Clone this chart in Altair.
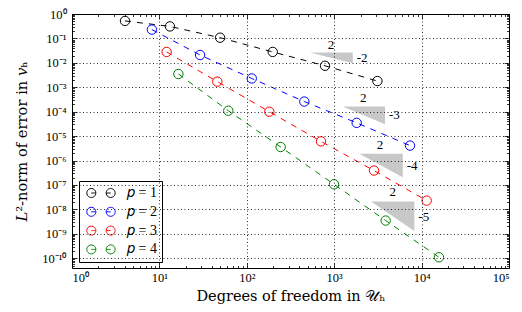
import altair as alt
import pandas as pd

series = ["𝑝 = 1", "𝑝 = 2", "𝑝 = 3", "𝑝 = 4"]
colors = ["#000000", "#0000ff", "#ff0000", "#008000"]

dofs_p1 = [4.04, 13.2, 49.5, 198, 785, 3120]
err_p1 = [0.52, 0.31, 0.107, 0.028, 0.0076, 0.0018]
dofs_p2 = [8.2, 29.2, 114, 455, 1808, 7370]
err_p2 = [0.23, 0.021, 0.0023, 2.6e-4, 3.5e-5, 4.1e-6]
dofs_p3 = [12.1, 46, 181, 706, 2853, 11430]
err_p3 = [0.028, 1.7e-3, 1.0e-4, 6.1e-6, 3.9e-7, 2.3e-8]
dofs_p4 = [16.5, 61.4, 244, 995, 3880, 15800]
err_p4 = [3.5e-3, 1.1e-4, 3.6e-6, 1.07e-7, 3.5e-9, 1.1e-10]

# slope triangles: left x, right x, top y, bottom y
tri_x0 = [528, 1250, 1936, 2636]
tri_x1 = [1629, 3811, 6081, 8260]
tri_ytop = [0.0267, 1.62e-4, 1.9e-6, 2.09e-8]
tri_ybot = [0.0097, 3.09e-5, 2.09e-7, 1.32e-9]
run_text = ["2", "2", "2", "2"]
run_x = [918, 2153, 3342, 4667]
run_y = [0.056, 3.5e-4, 4.5e-6, 5.2e-8]
rise_text = ["-2", "-3", "-4", "-5"]
rise_y = [0.0155, 7.6e-5, 5.75e-7, 4.9e-9]

x_major = [1, 10, 100, 1000, 10000, 100000]
x_minor = [m * 10 ** k for k in range(5) for m in range(2, 10)]
y_major = [10.0 ** (-k) for k in range(11)]
y_minor = [m * 10.0 ** (-k) for k in range(1, 12) for m in range(2, 10) if m * 10.0 ** (-k) > 4e-11]

sup = str.maketrans("-0123456789", "⁻⁰¹²³⁴⁵⁶⁷⁸⁹")


def label_expr(exps):
    e = "round(log(datum.value)/LN10)"
    expr = "''"
    for k in exps:
        expr = f"{e} == {k} ? '10{str(k).translate(sup)}' : ({expr})"
    return expr


rows = []
for name, xs, ys in zip(series, [dofs_p1, dofs_p2, dofs_p3, dofs_p4],
                        [err_p1, err_p2, err_p3, err_p4]):
    for a, b in zip(xs, ys):
        rows.append({"series": name, "dof": a, "err": b})
df = pd.DataFrame(rows)

trows = []
for i in range(4):
    trows.append({"tri": i, "x": tri_x0[i], "y": tri_ytop[i], "y2": tri_ytop[i]})
    trows.append({"tri": i, "x": tri_x1[i], "y": tri_ytop[i], "y2": tri_ybot[i]})
tdf = pd.DataFrame(trows)
run_df = pd.DataFrame({"x": run_x, "y": run_y, "t": run_text})
rise_df = pd.DataFrame({"x": tri_x1, "y": rise_y, "t": rise_text})

FONT = "Liberation Serif"
TFONT = "DejaVu Serif"
xdom = [1, 100000]
ydom = [4e-11, 1]

xs_scale = alt.Scale(type="log", domain=xdom, nice=False)
ys_scale = alt.Scale(type="log", domain=ydom, nice=False)

W, H = 437, 254


def tick_axis(orient, values, size):
    return alt.Axis(orient=orient, values=values, tickSize=size, offset=-size,
                    labels=False, domain=False, grid=False, title=None,
                    tickColor="black", tickWidth=0.8)


color = alt.Color("series:N", scale=alt.Scale(domain=series, range=colors),
                  legend=alt.Legend(
                      title=None, orient="none", legendX=7, legendY=167,
                      strokeColor="black", fillColor="white", cornerRadius=0,
                      padding=5, rowPadding=4.8,
                      symbolType="M-3.15,0 A1,1 0 1,0 -1.15,0 A1,1 0 1,0 -3.15,0 Z M-2.15,0 L-1.15,0 "
                                 "M1.15,0 A1,1 0 1,0 3.15,0 A1,1 0 1,0 1.15,0 Z M1.15,0 L2.15,0",
                      symbolSize=81, symbolStrokeWidth=1, symbolFillColor="transparent",
                      symbolOffset=10, labelOffset=19, symbolDash=[1, 0],
                      labelFont=FONT, labelFontSize=14, labelColor="black"))

lines = alt.Chart(df).mark_line(strokeDash=[6, 6], strokeWidth=1).encode(
    x=alt.X("dof:Q", scale=xs_scale, axis=alt.Axis(
        orient="bottom", values=x_major, labelExpr=label_expr(range(0, 6)),
        ticks=False, domain=False, grid=True, gridColor="black", gridDash=[1, 2.5],
        gridWidth=0.9, gridOpacity=0.9, labelFont=FONT, labelFontSize=12.5, labelColor="black",
        labelPadding=3, zindex=1,
        title="Degrees of freedom in 𝒰ₕ", titleFont=TFONT, titleFontSize=14.5,
        titleFontWeight="normal", titleColor="black", titleX=W / 2, titleY=28,
        titleBaseline="middle")),
    y=alt.Y("err:Q", scale=ys_scale, axis=alt.Axis(
        orient="left", values=y_major, labelExpr=label_expr(range(-10, 1)),
        ticks=False, domain=False, grid=True, gridColor="black", gridDash=[1, 2.5],
        gridWidth=0.9, gridOpacity=0.9, labelFont=FONT, labelFontSize=12.5, labelColor="black",
        labelPadding=6, zindex=1,
        title="𝐿²-norm of error in 𝑣ₕ", titleFont=TFONT, titleFontSize=14.7,
        titleFontWeight="normal", titleColor="black", titleX=-50, titleY=H / 2,
        titleBaseline="middle", titleAngle=270)),
    color=color,
    detail="series:N",
)

points = alt.Chart(df).mark_point(shape="circle", filled=False, size=88, strokeWidth=1,
                                  opacity=1).encode(
    x=alt.X("dof:Q", scale=xs_scale, axis=tick_axis("bottom", x_major, 5)),
    y=alt.Y("err:Q", scale=ys_scale, axis=tick_axis("left", y_major, 5)),
    color=color,
)

tris = alt.Chart(tdf).mark_area(color="#c8c8c8", opacity=1).encode(
    x=alt.X("x:Q", scale=xs_scale, axis=tick_axis("bottom", x_minor, 2.5)),
    y=alt.Y("y:Q", scale=ys_scale, axis=tick_axis("right", y_major, 5)),
    y2="y2:Q",
    detail="tri:N",
)

run_txt = alt.Chart(run_df).mark_text(font=FONT, fontSize=13, color="black",
                                      align="center", baseline="middle").encode(
    x=alt.X("x:Q", scale=xs_scale, axis=tick_axis("top", x_major, 5)),
    y=alt.Y("y:Q", scale=ys_scale, axis=tick_axis("left", y_minor, 2.5)),
    text="t:N",
)

rise_txt = alt.Chart(rise_df).mark_text(font=FONT, fontSize=13, color="black",
                                        align="left", baseline="middle", dx=4).encode(
    x=alt.X("x:Q", scale=xs_scale, axis=tick_axis("top", x_minor, 2.5)),
    y=alt.Y("y:Q", scale=ys_scale, axis=tick_axis("right", y_minor, 2.5)),
    text="t:N",
)

chart = alt.layer(tris, lines, points, run_txt, rise_txt).resolve_axis(
    x="independent", y="independent"
).properties(
    width=W, height=H,
    autosize=alt.AutoSizeParams(type="none"),
    padding={"left": 64, "top": 6, "right": 5, "bottom": 40},
).configure_view(stroke="black", strokeWidth=1)

chart.save("out.html", embed_options={"renderer": "svg", "actions": False})
